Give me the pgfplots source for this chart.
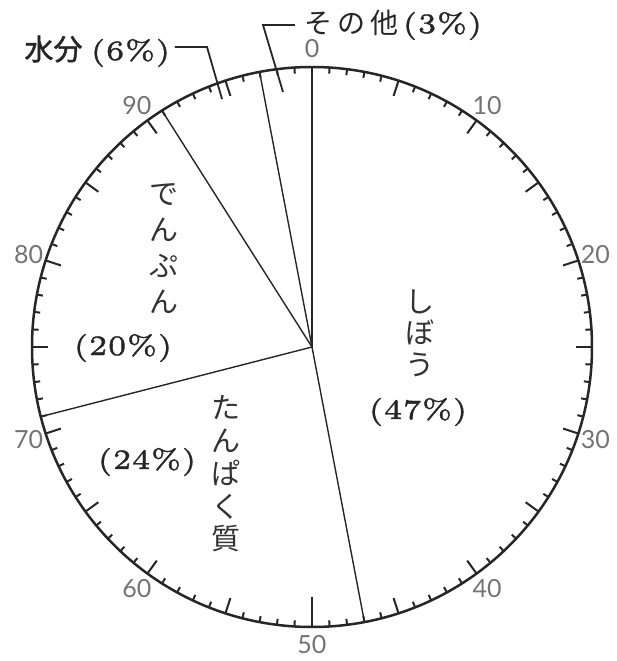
\documentclass[border=0pt]{standalone}
\usepackage{pgfplots}
\pgfplotsset{compat=1.18}
\usepackage{pgfplotstable}
\usepackage{fontspec}
\newfontfamily\jp{Noto Sans CJK JP}
\newfontfamily\jpb{Noto Sans CJK JP}[FakeBold=1.6]
\newfontfamily\num{Lato}
\newfontfamily\pct{lmroman5-regular.otf}[FakeBold=1.3]

% share of each part (%), and where its slice starts on the 0-100 dial
\pgfplotstableread{
part    share cum
shibou  47    0
tanpaku 24    47
denpun  20    71
suibun  6     91
sonota  3     97
}\pie

\begin{document}
\begin{tikzpicture}
  \begin{axis}[
      width=307.5pt, height=330.5pt, scale only axis,
      xmin=0, xmax=615, ymin=0, ymax=661,
      hide axis, clip=false,
    ]
    \path (axis cs:0,0) rectangle (axis cs:615,661);
    % slice borders, centre (312,314), radius 280
    \addplot[black!85, line width=0.7pt, no markers,
      quiver={u={280*sin(3.6*\thisrow{cum})}, v={280*cos(3.6*\thisrow{cum})}}]
      table[x expr=312, y expr=314] {\pie};
    \draw[line width=1.25pt, black!85] (axis cs:312,314) circle[radius=140pt];
    \coordinate (c) at (axis cs:312,314);

    % leader lines
    \draw[line width=0.9pt, black!85] (axis cs:175,614) -- (axis cs:207,614) -- (axis cs:222,562);
    \draw[line width=0.9pt, black!85] (axis cs:295,636) -- (axis cs:263,636) -- (axis cs:283,569);

    % slice names
    \node[align=center, text=black!80, font=\jp\fontsize{14.5}{15.75}\selectfont]
      at (axis cs:420,328) {し\\ぼ\\う};
    \node[align=center, text=black!80, font=\jp\fontsize{14.5}{18}\selectfont]
      at (axis cs:164,412) {で\\ん\\ぷ\\ん};
    \node[align=center, text=black!80, font=\jp\fontsize{14.5}{16.4}\selectfont]
      at (axis cs:226,187) {た\\ん\\ぱ\\く\\質};

    % percentages
    \node[text=black!85, font=\pct\fontsize{14}{16}\selectfont] at (axis cs:418,249) {(47\%)};
    \node[text=black!85, font=\pct\fontsize{14}{16}\selectfont] at (axis cs:123,313) {(20\%)};
    \node[text=black!85, font=\pct\fontsize{14}{16}\selectfont] at (axis cs:147,199) {(24\%)};
    \node[anchor=base east, inner sep=0pt, text=black!85]
      at (axis cs:171,601) {{\jpb\fontsize{14.5}{16}\selectfont 水分}\hspace{4pt}{\pct\fontsize{14}{16}\selectfont (6\%)}};
    \node[anchor=base west, inner sep=0pt, text=black!85]
      at (axis cs:304,628) {{\jp\fontsize{14}{16}\selectfont そ\hspace{2.5pt}の\hspace{2.5pt}他}\hspace{2pt}{\pct\fontsize{14}{16}\selectfont (3\%)}};
  \end{axis}

  % dial ticks: every 1, longer every 5, longest at 0 and 50
  \foreach \i in {0,...,99} {
    \pgfmathsetmacro\len{ifthenelse(mod(\i,50)==0,15,ifthenelse(mod(\i,5)==0,8,3))}
    \draw[line width=1pt, black!85] (c) ++({90-3.6*\i}:140pt) -- ++({270-3.6*\i}:\len pt);
  }
  \foreach \v in {0,10,...,90}
    \path (c) ++({90-3.6*\v}:149pt) node[text=black!55, font=\num\fontsize{12.5}{14}\selectfont] {\v};
\end{tikzpicture}
\end{document}
